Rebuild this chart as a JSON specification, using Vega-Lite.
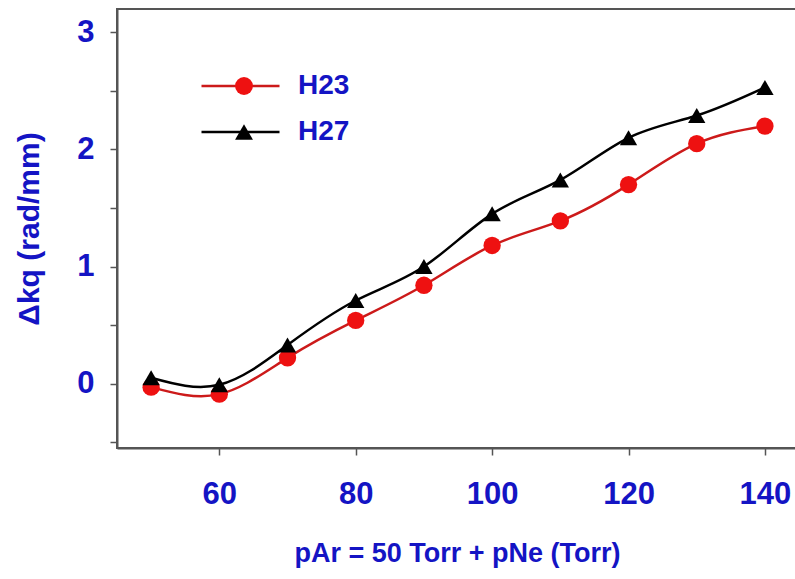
{
  "$schema": "https://vega.github.io/schema/vega-lite/v6.json",
  "autosize": "none",
  "width": 680,
  "height": 439,
  "padding": {"left": 117, "top": 9, "right": 0, "bottom": 131},
  "background": "white",
  "config": {
    "view": {"stroke": "#555555", "strokeWidth": 2},
    "font": "Liberation Sans"
  },
  "data": {
    "values": [
      {"p": 50, "series": "H23", "dk": -0.03},
      {"p": 60, "series": "H23", "dk": -0.09},
      {"p": 70, "series": "H23", "dk": 0.22},
      {"p": 80, "series": "H23", "dk": 0.54},
      {"p": 90, "series": "H23", "dk": 0.84},
      {"p": 100, "series": "H23", "dk": 1.18},
      {"p": 110, "series": "H23", "dk": 1.39},
      {"p": 120, "series": "H23", "dk": 1.70},
      {"p": 130, "series": "H23", "dk": 2.05},
      {"p": 140, "series": "H23", "dk": 2.20},
      {"p": 50, "series": "H27", "dk": 0.05},
      {"p": 60, "series": "H27", "dk": -0.01},
      {"p": 70, "series": "H27", "dk": 0.33},
      {"p": 80, "series": "H27", "dk": 0.71},
      {"p": 90, "series": "H27", "dk": 1.00},
      {"p": 100, "series": "H27", "dk": 1.45},
      {"p": 110, "series": "H27", "dk": 1.74},
      {"p": 120, "series": "H27", "dk": 2.10},
      {"p": 130, "series": "H27", "dk": 2.29},
      {"p": 140, "series": "H27", "dk": 2.53}
    ]
  },
  "encoding": {
    "x": {
      "field": "p", "type": "quantitative",
      "scale": {"domain": [45, 144.7], "nice": false, "zero": false},
      "axis": {
        "title": "pAr = 50 Torr + pNe (Torr)",
        "values": [60, 80, 100, 120, 140],
        "grid": false,
        "domainColor": "#555555", "domainWidth": 2,
        "tickColor": "#555555", "tickWidth": 1.5, "tickSize": 7,
        "labelFont": "Liberation Sans", "labelFontSize": 31, "labelFontWeight": "bold", "labelColor": "#1414c4",
        "labelPadding": 24,
        "titleFont": "Liberation Sans", "titleFontSize": 27, "titleFontWeight": "bold", "titleColor": "#1414c4",
        "titlePadding": 31
      }
    },
    "y": {
      "field": "dk", "type": "quantitative",
      "scale": {"domain": [-0.55, 3.2], "nice": false, "zero": false},
      "axis": {
        "title": "Δkq (rad/mm)",
        "values": [-0.5, 0, 0.5, 1, 1.5, 2, 2.5, 3],
        "format": ".1~f",
        "labelExpr": "datum.value % 1 === 0 ? datum.label : ''",
        "grid": false,
        "domainColor": "#555555", "domainWidth": 2,
        "tickColor": "#555555", "tickWidth": 1.5, "tickSize": 7,
        "labelFont": "Liberation Sans", "labelFontSize": 31, "labelFontWeight": "bold", "labelColor": "#1414c4",
        "labelPadding": 16,
        "titleFont": "Liberation Sans", "titleFontSize": 30, "titleFontWeight": "bold", "titleColor": "#1414c4",
        "titlePadding": 32
      }
    }
  },
  "layer": [
    {
      "mark": {"type": "line", "interpolate": "natural", "strokeWidth": 2.5},
      "encoding": {
        "color": {
          "field": "series", "type": "nominal",
          "scale": {"domain": ["H23", "H27"], "range": ["#cc1a1a", "#000000"]},
          "legend": {
            "orient": "top-left", "offset": 64, "padding": 0,
            "title": null,
            "symbolType": "stroke",
            "symbolSize": 6084, "clipHeight": 26, "rowPadding": 18,
            "symbolOffset": 19, "labelOffset": 17,
            "symbolStrokeWidth": 2.5,
            "labelFont": "Liberation Sans", "labelFontSize": 28, "labelFontWeight": "bold", "labelColor": "#1414c4"
          }
        }
      }
    },
    {
      "mark": {"type": "point", "filled": true, "opacity": 1, "size": 300},
      "encoding": {
        "fill": {
          "field": "series", "type": "nominal",
          "scale": {"domain": ["H23", "H27"], "range": ["#ee1111", "#000000"]},
          "legend": null
        },
        "shape": {
          "field": "series", "type": "nominal",
          "scale": {"domain": ["H23", "H27"], "range": ["circle", "triangle-up"]},
          "legend": {
            "orient": "none", "legendX": 113, "legendY": 64, "padding": 0,
            "title": null,
            "symbolSize": 320, "clipHeight": 26, "rowPadding": 18,
            "symbolStrokeWidth": 0,
            "labelExpr": "''",
            "labelFontSize": 28,
            "encode": {
              "symbols": {
                "update": {
                  "fill": {"signal": "datum.value === 'H23' ? '#ee1111' : '#000000'"},
                  "opacity": {"value": 1}
                }
              }
            }
          }
        }
      }
    }
  ]
}
